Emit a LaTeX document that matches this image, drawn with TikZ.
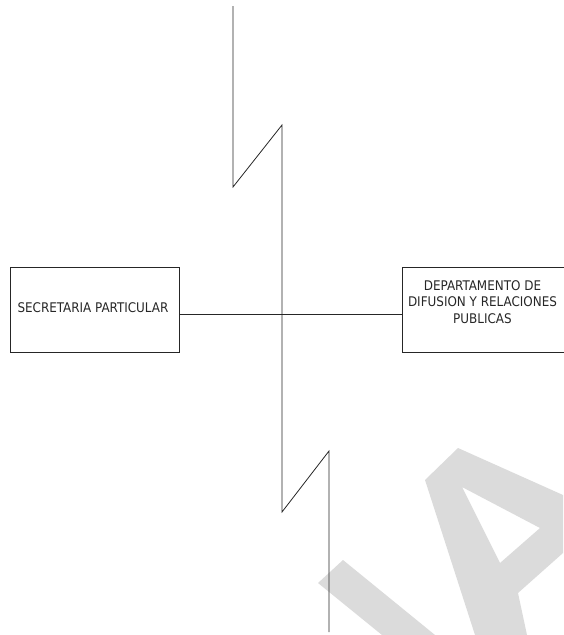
\documentclass[tikz,border=0pt]{standalone}
\usepackage{fontspec}
\setmainfont{DejaVu Sans Condensed}
\begin{document}
\begin{tikzpicture}[x=1pt,y=-1pt,
  unitbox/.style={draw=black!85,line width=0.8pt,minimum width=169pt,minimum height=85pt,inner sep=0pt},
  boxlabel/.style={align=center,inner sep=0pt,font=\fontsize{13.3}{16.5}\selectfont,text=black!85},
  wire/.style={draw=black!85,line width=0.8pt},
  wmshape/.style={fill=black!14,draw=none}]
\useasboundingbox (0,0) rectangle (563,635);
% watermark strokes
\fill[wmshape,even odd rule] (425,480) -- (458,448) -- (563,495) -- (563,553) -- (518,593) -- (527,635) -- (475,635) -- cycle
  (462,487) -- (540,528) -- (500,563) -- cycle;
\fill[wmshape] (318,583) -- (343,560) -- (435,635) -- (382,635) -- cycle;
% units
\node[unitbox] (sec) at (94.5,309.5) {};
\node[boxlabel] (sectext) at (93,308) {SECRETARIA PARTICULAR};
\node[unitbox,minimum width=162pt] (dep) at (483,309.5) {};
\node[boxlabel] (deptext) at (482.5,302) {DEPARTAMENTO DE\\DIFUSION Y RELACIONES\\PUBLICAS};
% link between the two units
\coordinate (hl) at (sec.east |- 0,314);
\coordinate (hr) at (dep.west |- 0,314);
\draw[wire] (hl) -- (hr);
% vertical line with break marks
\coordinate (t0) at (233,6);
\coordinate (t1) at (233,187);
\coordinate (t2) at (282,125);
\coordinate (b1) at (282,512);
\coordinate (b2) at (329,451);
\coordinate (b3) at (329,632);
\draw[wire] (t0) -- (t1) -- (t2) -- (b1) -- (b2) -- (b3);
\end{tikzpicture}
\end{document}
